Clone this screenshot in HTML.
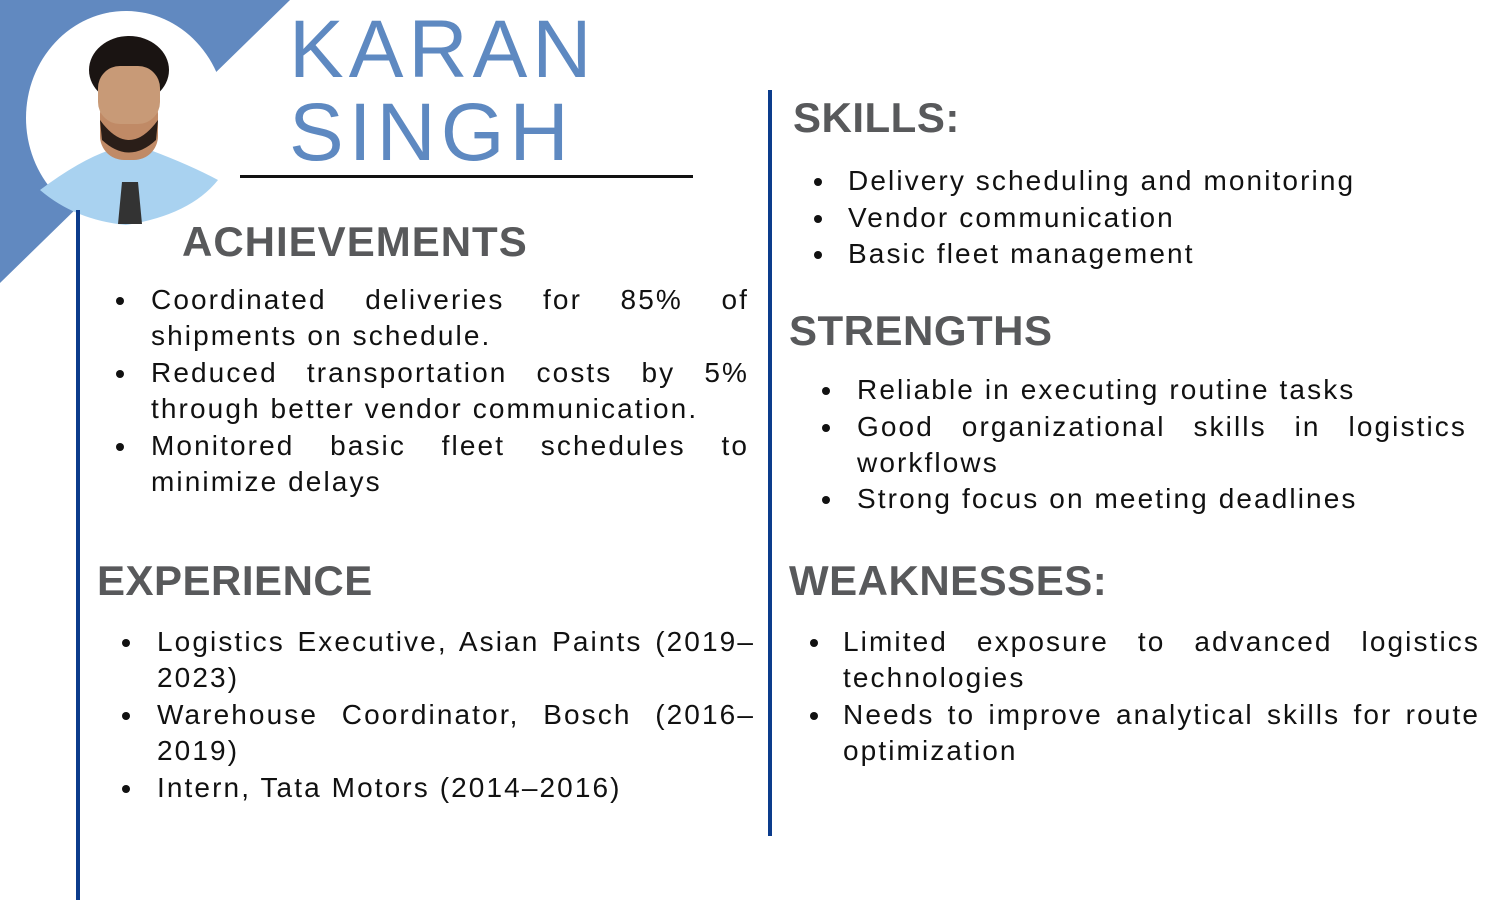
<!DOCTYPE html>
<html><head><meta charset="utf-8">
<style>
html,body{margin:0;padding:0}
body{width:1500px;height:900px;position:relative;overflow:hidden;background:#fff;font-family:"Liberation Sans",sans-serif}
.ln{position:absolute;height:36px;line-height:36px;font-size:28px;color:#111;white-space:nowrap;letter-spacing:2.1px}
.j{text-align:justify;text-align-last:justify}
.b{position:absolute;width:8px;height:8px;border-radius:50%;background:#111}
.h{position:absolute;font-weight:bold;color:#58595b;font-size:42px;line-height:48px;white-space:nowrap;letter-spacing:0.5px}
.name{position:absolute;color:#5e89c1;font-size:82px;line-height:84px;letter-spacing:5px}
</style></head><body>
<svg width="1500" height="900" style="position:absolute;left:0;top:0">
  <polygon points="0,0 290,0 0,283" fill="#6189c0"/>
  <ellipse cx="126" cy="118" rx="100" ry="107" fill="#fff"/>
  <g>
    <path d="M40,190 Q80,160 110,150 L150,150 Q190,165 218,180 Q190,215 126,225 Q75,220 40,190Z" fill="#a9d2f0"/>
    <polygon points="122,182 138,182 142,224 118,224" fill="#333"/>
    <rect x="100" y="90" width="58" height="70" rx="24" fill="#c08a66"/>
    <ellipse cx="129" cy="70" rx="40" ry="34" fill="#1a1412"/>
    <rect x="98" y="66" width="62" height="58" rx="22" fill="#c89a77"/>
    <path d="M100,120 Q129,160 158,120 L156,140 Q129,165 102,140Z" fill="#2a1e18"/>
  </g>
  <rect x="240" y="175" width="453" height="3" fill="#111"/>
  <rect x="76" y="210" width="4" height="690" fill="#0c3c8c"/>
  <rect x="768" y="90" width="4" height="746" fill="#0c3c8c"/>
</svg>
<div class="name" style="left:289px;top:8px">KARAN</div>
<div class="name" style="left:289px;top:91px">SINGH</div>
<div class="h" style="left:182px;top:218px;letter-spacing:1px">ACHIEVEMENTS</div>
<div class="h" style="left:97px;top:557px">EXPERIENCE</div>
<div class="h" style="left:793px;top:94px">SKILLS:</div>
<div class="h" style="left:789px;top:307px">STRENGTHS</div>
<div class="h" style="left:789px;top:557px">WEAKNESSES:</div>
<script>
const sections=[
 {name:'achievement',bx:120,x:151,r:749,items:[
   {y:300,lines:['Coordinated deliveries for 85% of','shipments on schedule.']},
   {y:373,lines:['Reduced transportation costs by 5%','through better vendor communication.']},
   {y:446,lines:['Monitored basic fleet schedules to','minimize delays']}]},
 {name:'experience',bx:126,x:157,r:755,items:[
   {y:642,lines:['Logistics Executive, Asian Paints (2019–','2023)']},
   {y:715,lines:['Warehouse Coordinator, Bosch (2016–','2019)']},
   {y:788,lines:['Intern, Tata Motors (2014–2016)']}]},
 {name:'skill',bx:818,x:848,r:1400,items:[
   {y:181,lines:['Delivery scheduling and monitoring']},
   {y:218,lines:['Vendor communication']},
   {y:254,lines:['Basic fleet management']}]},
 {name:'strength',bx:826,x:857,r:1467,items:[
   {y:390,lines:['Reliable in executing routine tasks']},
   {y:427,lines:['Good organizational skills in logistics','workflows']},
   {y:499,lines:['Strong focus on meeting deadlines']}]},
 {name:'weakness',bx:814,x:843,r:1480,items:[
   {y:642,lines:['Limited exposure to advanced logistics','technologies']},
   {y:715,lines:['Needs to improve analytical skills for route','optimization']}]}
];
sections.forEach(s=>{
  s.items.forEach((it,i)=>{
    const b=document.createElement('div');
    b.className='b';
    b.style.left=(s.bx-4)+'px';b.style.top=(it.y-3)+'px';
    
    
    document.body.appendChild(b);
    it.lines.forEach((t,k)=>{
      const d=document.createElement('div');
      const last=k===it.lines.length-1;
      d.className='ln'+(last?'':' j');
      d.style.left=s.x+'px';d.style.top=(it.y+k*36-18)+'px';
      if(!last){d.style.width=(s.r-s.x)+'px';}
      d.textContent=t;
      
      
      document.body.appendChild(d);
    });
  });
});
</script>
</body></html>
